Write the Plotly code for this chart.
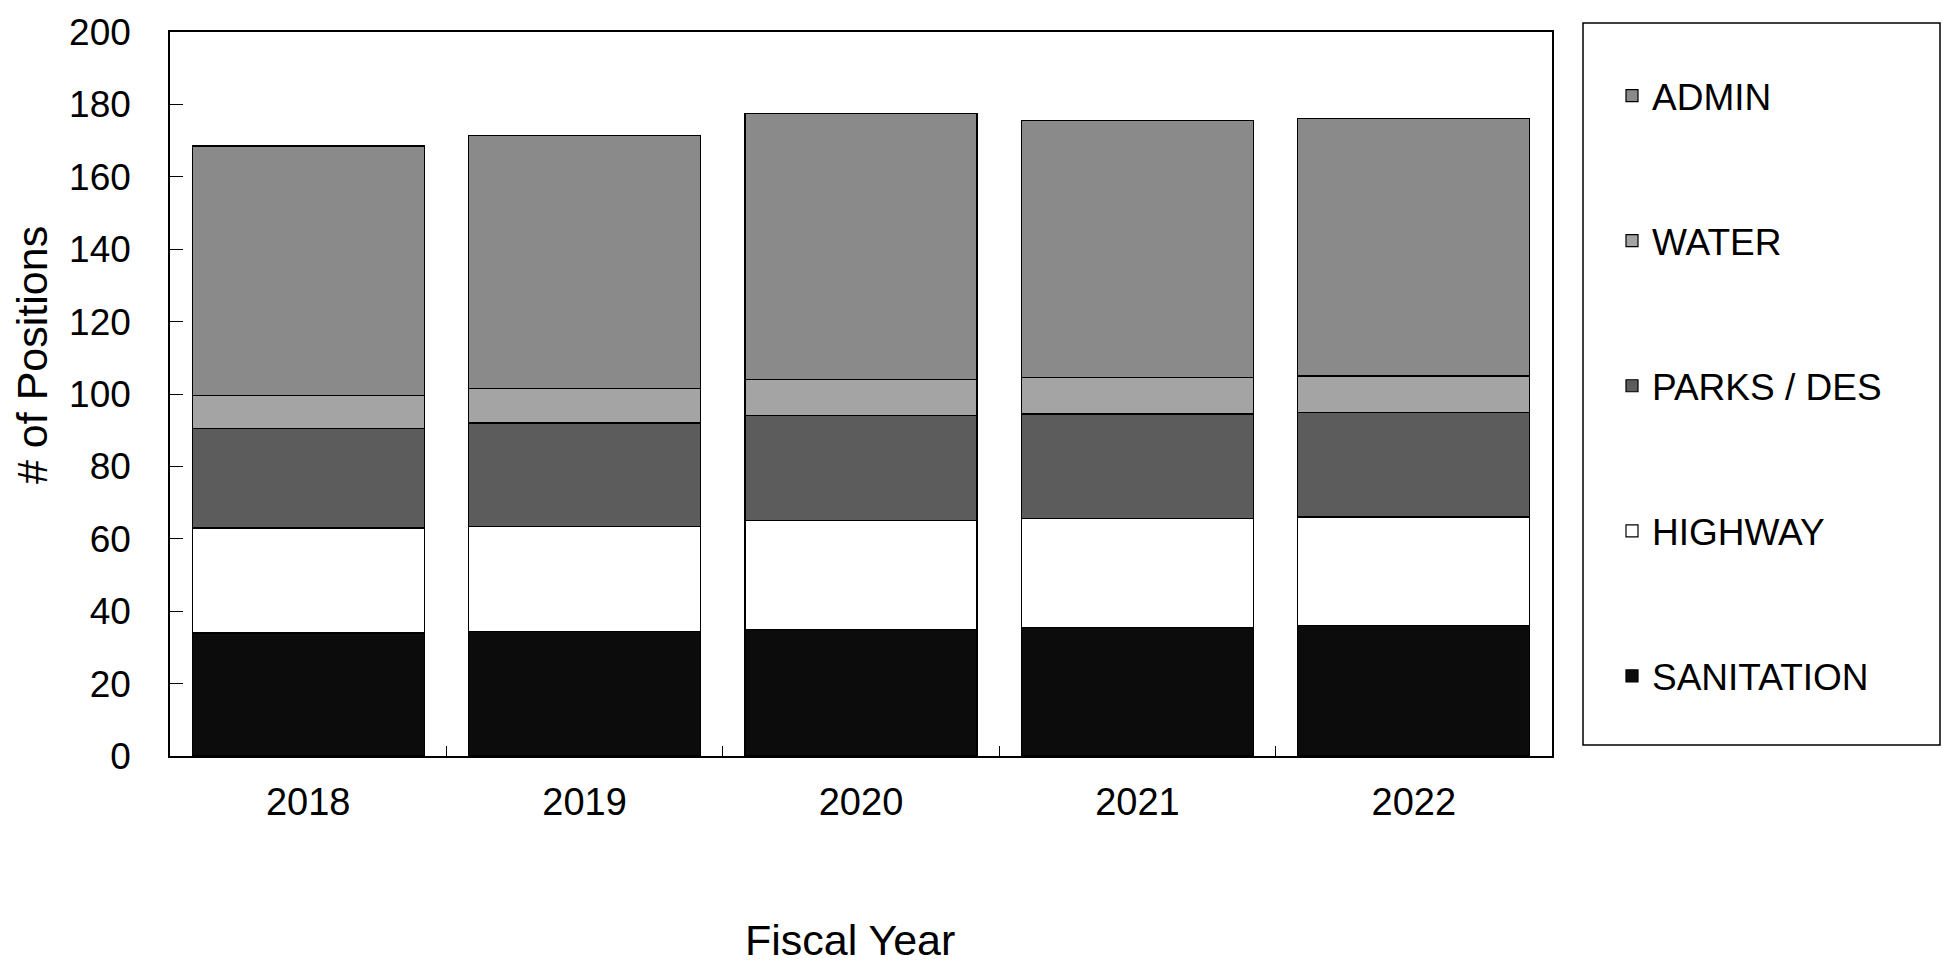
import plotly.graph_objects as go

years = ["2018", "2019", "2020", "2021", "2022"]
sanitation = [34, 34.5, 35, 35.5, 36]
highway = [29, 29, 30, 30, 30]
parks = [27.5, 28.5, 29, 29, 29]
water = [9, 9.5, 10, 10, 10]
admin = [69, 70, 73.5, 71, 71]

series = [
    ("SANITATION", sanitation, "#0c0c0c", 5),
    ("HIGHWAY", highway, "#ffffff", 4),
    ("PARKS / DES", parks, "#5c5c5c", 3),
    ("WATER", water, "#a4a4a4", 2),
    ("ADMIN", admin, "#8a8a8a", 1),
]

FONT = "Liberation Sans, Arial, sans-serif"

# the page body adds an 8px margin, so the layout is shifted by that much
OFF = 8
W, H = 1950, 968
L, R, T, B = 170 - OFF, 1552 - OFF, 32 - OFF, 756 - OFF
PW, PH = R - L, B - T

def px(x):
    return (x - OFF - L) / PW

def py(y):
    return (B - (y - OFF)) / PH

fig = go.Figure()
for name, vals, col, rank in series:
    fig.add_trace(go.Bar(
        x=years, y=vals, name=name, legendgroup=name, legendrank=rank,
        marker=dict(color=col, line=dict(color="#000000", width=1.2)),
    ))

fig.update_layout(
    width=W, height=H,
    barmode="stack", bargap=0.16,
    paper_bgcolor="white", plot_bgcolor="white",
    margin=dict(l=L, r=W - R, t=T, b=H - B, autoexpand=False),
    font=dict(family=FONT, size=37, color="black"),
    showlegend=True,
    legend=dict(
        x=px(1612), y=py(65), xanchor="left", yanchor="top",
        traceorder="grouped", tracegroupgap=94,
        font=dict(size=37, family=FONT),
        bgcolor="rgba(0,0,0,0)", borderwidth=0,
        itemwidth=30,
    ),
    shapes=[dict(type="rect", xref="paper", yref="paper",
                 x0=px(1583), x1=px(1940), y0=py(745), y1=py(23),
                 line=dict(color="black", width=1.5), fillcolor="rgba(0,0,0,0)")],
    annotations=[
        dict(text="# of Positions", xref="paper", yref="paper",
             x=px(32), y=py(355), xanchor="center", yanchor="middle",
             textangle=-90, showarrow=False, font=dict(size=43, family=FONT)),
        dict(text="Fiscal Year", xref="paper", yref="paper",
             x=px(850), y=py(940), xanchor="center", yanchor="middle",
             showarrow=False, font=dict(size=43, family=FONT)),
    ],
)

fig.update_xaxes(
    automargin=False,
    showline=True, linecolor="black", linewidth=1.5, mirror=True,
    ticks="inside", ticklen=10, tickcolor="black", tickson="boundaries",
    ticklabelstandoff=12,
    tickfont=dict(size=38),
    showgrid=False,
)
fig.update_yaxes(
    automargin=False,
    range=[0, 200], dtick=20,
    showline=True, linecolor="black", linewidth=1.5, mirror=True,
    ticks="inside", ticklen=13, tickcolor="black",
    ticklabelstandoff=30, ticklabeloverflow="allow",
    tickfont=dict(size=37),
    showgrid=False, zeroline=False,
)

fig.write_html("out.html")
